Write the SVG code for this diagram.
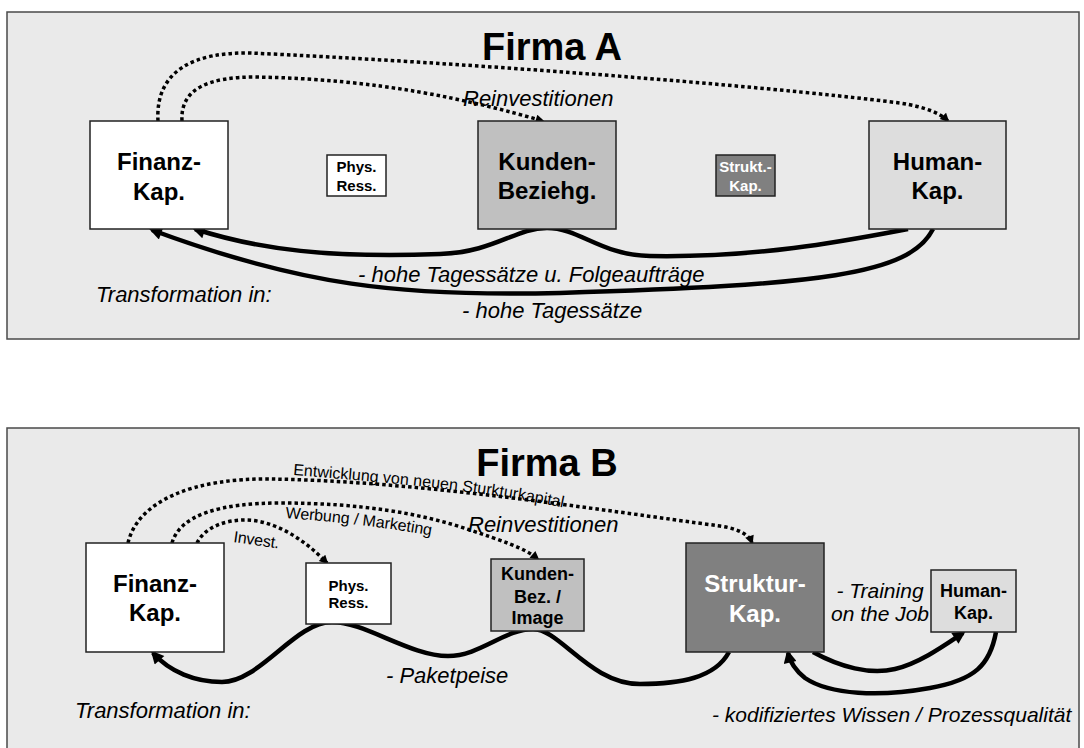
<svg xmlns="http://www.w3.org/2000/svg" width="1084" height="748" viewBox="0 0 1084 748">
<style>
text{font-family:"Liberation Sans",Arial,Helvetica,sans-serif;fill:#000}
.panel{fill:#eaeaea;stroke:#4a4a4a;stroke-width:1.5}
.box{stroke:#222;stroke-width:1.5}
.b24{font-size:24px;font-weight:bold;text-anchor:middle}
.b18{font-size:18px;font-weight:bold;text-anchor:middle}
.b15{font-size:15px;font-weight:bold;text-anchor:middle}
.w{fill:#fff}
.title{font-size:38px;font-weight:bold;text-anchor:middle}
.it{font-size:22px;font-style:italic}
.it21{font-size:21px;font-style:italic}
.sm{font-size:16px}
.dot{fill:none;stroke:#000;stroke-width:3.5;stroke-dasharray:3.5 3;marker-end:url(#dh)}
.sol{fill:none;stroke:#000;stroke-width:4.5;marker-end:url(#sh)}
</style>
<defs>
<marker id="sh" viewBox="0 0 10 10" refX="7.5" refY="5" markerWidth="16" markerHeight="13" markerUnits="userSpaceOnUse" orient="auto"><path d="M0,0 L10,5 L0,10 z" fill="#000"/></marker>
<marker id="dh" viewBox="0 0 10 10" refX="8" refY="5" markerWidth="11" markerHeight="9" markerUnits="userSpaceOnUse" orient="auto"><path d="M0,0 L10,5 L0,10 z" fill="#000"/></marker>
<path id="tpE" d="M293,475 C380,482 480,490 565,508"/>
<path id="tpW" d="M285,518 C340,522 390,528 433,536"/>
<path id="tpI" d="M233,542 L282,549"/>
</defs>

<g id="panelA">
<rect class="panel" x="7" y="12" width="1072" height="327"/>
<text class="title" x="552" y="60">Firma A</text>
<text class="it" x="96" y="302">Transformation in:</text>
</g>
<g id="panelB">
<rect class="panel" x="7" y="428" width="1072" height="340"/>
<text class="title" x="547" y="476">Firma B</text>
<text class="it" x="75" y="718">Transformation in:</text>
</g>

<g id="connectorsA">
<path class="dot" d="M158,121 C155,70 195,52 250,53 C450,62 750,84 900,103 C925,107 940,113 948,121"/>
<path class="dot" d="M182,121 C180,88 210,77 255,77 C380,79 470,100 543,121"/>
<path class="sol" d="M908,229 C850,240 760,258 650,256 C600,255 580,228 547,228 C515,228 495,252 440,254 C330,258 260,250 195,229"/>
<path class="sol" d="M933,229 C910,275 820,285 560,293 C400,297 300,285 152,230"/>
<text class="it" x="463" y="106">Reinvestitionen</text>
<text class="it" x="358" y="282">- hohe Tagessätze u. Folgeaufträge</text>
<text class="it" x="462" y="318">- hohe Tagessätze</text>
</g>

<g id="A-finanz"><rect class="box" x="90" y="121" width="138" height="108" fill="#fff"/><text class="b24" x="159" y="170">Finanz-</text><text class="b24" x="159" y="200">Kap.</text></g>
<g id="A-phys"><rect class="box" x="327" y="155" width="59" height="41" fill="#fff"/><text class="b15" x="356.5" y="172">Phys.</text><text class="b15" x="356.5" y="191">Ress.</text></g>
<g id="A-kunden"><rect class="box" x="478" y="121" width="138" height="108" fill="#c0c0c0"/><text class="b24" x="547" y="170">Kunden-</text><text class="b24" x="547" y="199">Beziehg.</text></g>
<g id="A-strukt"><rect class="box" x="716" y="155" width="59" height="41" fill="#808080"/><text class="b15 w" x="745.5" y="172">Strukt.-</text><text class="b15 w" x="745.5" y="191">Kap.</text></g>
<g id="A-human"><rect class="box" x="869" y="121" width="137" height="108" fill="#dddddd"/><text class="b24" x="937.5" y="170">Human-</text><text class="b24" x="937.5" y="199">Kap.</text></g>

<g id="connectorsB">
<path class="dot" d="M128,543 C138,500 195,478 270,479 C420,481 600,510 720,526 C740,529 749,535 752,543"/>
<path class="dot" d="M172,543 C180,515 220,503 280,503 C360,503 420,513 470,530 C500,540 525,548 538,559"/>
<path class="dot" d="M197,543 C205,527 225,520 245,520 C275,520 305,540 327,563"/>
<path class="sol" d="M729,652 C715,678 680,684 640,684 C590,684 560,629 533,629 C505,629 480,656 448,656 C410,656 365,622 332,622 C295,622 260,682 222,682 C195,682 170,672 153,653"/>
<path class="sol" d="M813,652 C840,667 870,675 895,669 C920,663 945,645 963,633"/>
<path class="sol" d="M996,632 C990,665 975,680 930,688 C880,697 830,695 805,678 C795,670 790,662 788,653"/>
<text class="sm"><textPath href="#tpE" textLength="272">Entwicklung von neuen Sturkturkapital</textPath></text>
<text class="sm"><textPath href="#tpW" textLength="147">Werbung / Marketing</textPath></text>
<text class="sm"><textPath href="#tpI" textLength="46">Invest.</textPath></text>
<text class="it" x="468" y="532">Reinvestitionen</text>
<text class="it" x="386" y="683">- Paketpeise</text>
<text class="it21" x="880" y="598" text-anchor="middle">- Training</text>
<text class="it21" x="880" y="621" text-anchor="middle">on the Job</text>
<text class="it21" x="712" y="722">- kodifiziertes Wissen / Prozessqualität</text>
</g>

<g id="B-finanz"><rect class="box" x="86" y="543" width="138" height="109" fill="#fff"/><text class="b24" x="155" y="592">Finanz-</text><text class="b24" x="155" y="621">Kap.</text></g>
<g id="B-phys"><rect class="box" x="306" y="563" width="85" height="61" fill="#fff"/><text class="b15" x="348.5" y="591">Phys.</text><text class="b15" x="348.5" y="608">Ress.</text></g>
<g id="B-kunden"><rect class="box" x="491" y="559" width="93" height="72" fill="#c0c0c0"/><text class="b18" x="537.5" y="580">Kunden-</text><text class="b18" x="537.5" y="603">Bez. /</text><text class="b18" x="537.5" y="624">Image</text></g>
<g id="B-struktur"><rect class="box" x="686" y="543" width="138" height="109" fill="#808080"/><text class="b24 w" x="755" y="592">Struktur-</text><text class="b24 w" x="755" y="622">Kap.</text></g>
<g id="B-human"><rect class="box" x="931" y="570" width="85" height="62" fill="#dddddd"/><text class="b18" x="973.5" y="597">Human-</text><text class="b18" x="973.5" y="619">Kap.</text></g>
</svg>
